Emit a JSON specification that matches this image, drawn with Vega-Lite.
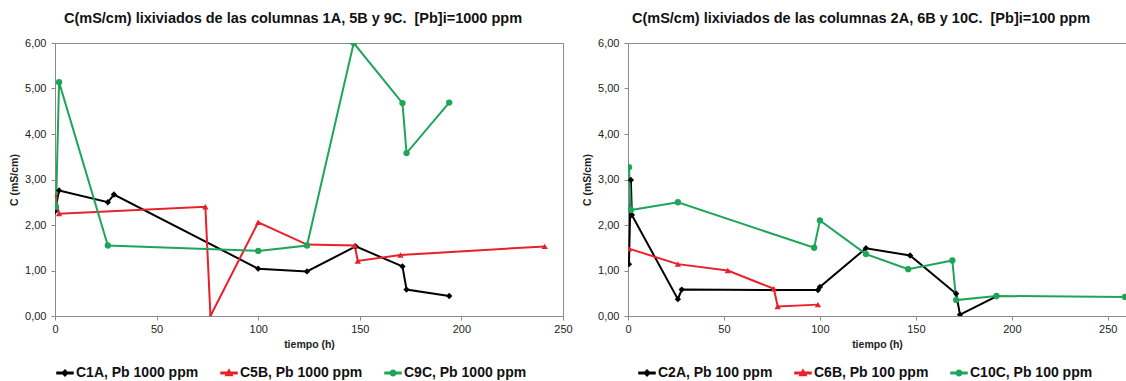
{
  "$schema": "https://vega.github.io/schema/vega-lite/v6.json",
  "padding": {"left": 9, "right": 0, "top": 10, "bottom": 0},
  "background": "white",
  "spacing": 9,
  "config": {
    "locale": {"number": {"decimal": ",", "thousands": ".", "grouping": [3], "currency": ["", " €"]}},
    "font": "Liberation Sans",
    "view": {"stroke": "#8a8a8a", "strokeWidth": 1},
    "axis": {
      "grid": false,
      "labelFont": "Liberation Sans",
      "labelFontSize": 11,
      "labelColor": "#222222",
      "labelFlush": false,
      "titleFont": "Liberation Sans",
      "titleFontSize": 10.5,
      "titleFontWeight": "bold",
      "titleColor": "#222222",
      "domainColor": "#8a8a8a",
      "tickColor": "#8a8a8a",
      "tickSize": 4
    },
    "legend": {
      "orient": "none",
      "direction": "horizontal",
      "labelFont": "Liberation Sans",
      "labelFontSize": 14,
      "labelFontWeight": "bold",
      "labelColor": "#111111",
      "labelOffset": 2,
      "columnPadding": 19,
      "symbolSize": 256
    },
    "title": {"font": "Liberation Sans", "fontSize": 14.5, "fontWeight": "bold", "color": "#111111", "offset": 11, "anchor": "middle", "frame": "group"}
  },
  "data": {
    "values": [
      {"panel": "L", "serie": "C1A, Pb 1000 ppm", "t": 0, "c": 2.3},
      {"panel": "L", "serie": "C1A, Pb 1000 ppm", "t": 2, "c": 2.76},
      {"panel": "L", "serie": "C1A, Pb 1000 ppm", "t": 26, "c": 2.5},
      {"panel": "L", "serie": "C1A, Pb 1000 ppm", "t": 29, "c": 2.67},
      {"panel": "L", "serie": "C1A, Pb 1000 ppm", "t": 100, "c": 1.04},
      {"panel": "L", "serie": "C1A, Pb 1000 ppm", "t": 124, "c": 0.98},
      {"panel": "L", "serie": "C1A, Pb 1000 ppm", "t": 148, "c": 1.53},
      {"panel": "L", "serie": "C1A, Pb 1000 ppm", "t": 171, "c": 1.09},
      {"panel": "L", "serie": "C1A, Pb 1000 ppm", "t": 173, "c": 0.58},
      {"panel": "L", "serie": "C1A, Pb 1000 ppm", "t": 194, "c": 0.44},
      {"panel": "L", "serie": "C5B, Pb 1000 ppm", "t": 0, "c": 2.65},
      {"panel": "L", "serie": "C5B, Pb 1000 ppm", "t": 2, "c": 2.25},
      {"panel": "L", "serie": "C5B, Pb 1000 ppm", "t": 74, "c": 2.4},
      {"panel": "L", "serie": "C5B, Pb 1000 ppm", "t": 76.5, "c": 0},
      {"panel": "L", "serie": "C5B, Pb 1000 ppm", "t": 100, "c": 2.06},
      {"panel": "L", "serie": "C5B, Pb 1000 ppm", "t": 124, "c": 1.57},
      {"panel": "L", "serie": "C5B, Pb 1000 ppm", "t": 147.5, "c": 1.55},
      {"panel": "L", "serie": "C5B, Pb 1000 ppm", "t": 149, "c": 1.21},
      {"panel": "L", "serie": "C5B, Pb 1000 ppm", "t": 170, "c": 1.34},
      {"panel": "L", "serie": "C5B, Pb 1000 ppm", "t": 241, "c": 1.53},
      {"panel": "L", "serie": "C9C, Pb 1000 ppm", "t": 0.5, "c": 2.4},
      {"panel": "L", "serie": "C9C, Pb 1000 ppm", "t": 2, "c": 5.14},
      {"panel": "L", "serie": "C9C, Pb 1000 ppm", "t": 26, "c": 1.55},
      {"panel": "L", "serie": "C9C, Pb 1000 ppm", "t": 100, "c": 1.43},
      {"panel": "L", "serie": "C9C, Pb 1000 ppm", "t": 124, "c": 1.55},
      {"panel": "L", "serie": "C9C, Pb 1000 ppm", "t": 147, "c": 6.0},
      {"panel": "L", "serie": "C9C, Pb 1000 ppm", "t": 171, "c": 4.68},
      {"panel": "L", "serie": "C9C, Pb 1000 ppm", "t": 173, "c": 3.58},
      {"panel": "L", "serie": "C9C, Pb 1000 ppm", "t": 194, "c": 4.69},
      {"panel": "R", "serie": "C2A, Pb 100 ppm", "t": 0.5, "c": 1.14},
      {"panel": "R", "serie": "C2A, Pb 100 ppm", "t": 1.5, "c": 2.99},
      {"panel": "R", "serie": "C2A, Pb 100 ppm", "t": 2, "c": 2.22},
      {"panel": "R", "serie": "C2A, Pb 100 ppm", "t": 26, "c": 0.37},
      {"panel": "R", "serie": "C2A, Pb 100 ppm", "t": 28, "c": 0.58},
      {"panel": "R", "serie": "C2A, Pb 100 ppm", "t": 99, "c": 0.57},
      {"panel": "R", "serie": "C2A, Pb 100 ppm", "t": 100, "c": 0.64},
      {"panel": "R", "serie": "C2A, Pb 100 ppm", "t": 124, "c": 1.49},
      {"panel": "R", "serie": "C2A, Pb 100 ppm", "t": 147, "c": 1.33},
      {"panel": "R", "serie": "C2A, Pb 100 ppm", "t": 171, "c": 0.49},
      {"panel": "R", "serie": "C2A, Pb 100 ppm", "t": 173, "c": 0.03},
      {"panel": "R", "serie": "C2A, Pb 100 ppm", "t": 192, "c": 0.43},
      {"panel": "R", "serie": "C6B, Pb 100 ppm", "t": 0.5, "c": 1.48},
      {"panel": "R", "serie": "C6B, Pb 100 ppm", "t": 26, "c": 1.14},
      {"panel": "R", "serie": "C6B, Pb 100 ppm", "t": 52, "c": 1.0},
      {"panel": "R", "serie": "C6B, Pb 100 ppm", "t": 76, "c": 0.6},
      {"panel": "R", "serie": "C6B, Pb 100 ppm", "t": 78, "c": 0.21},
      {"panel": "R", "serie": "C6B, Pb 100 ppm", "t": 99, "c": 0.25},
      {"panel": "R", "serie": "C10C, Pb 100 ppm", "t": 0.5, "c": 3.27},
      {"panel": "R", "serie": "C10C, Pb 100 ppm", "t": 1.5, "c": 2.33},
      {"panel": "R", "serie": "C10C, Pb 100 ppm", "t": 26, "c": 2.5},
      {"panel": "R", "serie": "C10C, Pb 100 ppm", "t": 97, "c": 1.5},
      {"panel": "R", "serie": "C10C, Pb 100 ppm", "t": 100, "c": 2.1},
      {"panel": "R", "serie": "C10C, Pb 100 ppm", "t": 124, "c": 1.36},
      {"panel": "R", "serie": "C10C, Pb 100 ppm", "t": 146, "c": 1.03},
      {"panel": "R", "serie": "C10C, Pb 100 ppm", "t": 169, "c": 1.22},
      {"panel": "R", "serie": "C10C, Pb 100 ppm", "t": 171, "c": 0.35},
      {"panel": "R", "serie": "C10C, Pb 100 ppm", "t": 192, "c": 0.44},
      {"panel": "R", "serie": "C10C, Pb 100 ppm", "t": 259, "c": 0.42}
    ]
  },
  "resolve": {"scale": {"color": "independent", "x": "independent", "y": "independent"}, "legend": {"color": "independent"}},
  "hconcat": [
    {
      "width": 508,
      "height": 273,
      "title": {"text": "C(mS/cm) lixiviados de las columnas 1A, 5B y 9C.\u00a0 [Pb]i=1000 ppm", "dx": -16},
      "transform": [{"filter": "datum.panel === 'L'"}],
      "encoding": {
        "x": {"field": "t", "type": "quantitative", "scale": {"domain": [0, 250], "nice": false, "zero": false},
              "axis": {"values": [0, 50, 100, 150, 200, 250], "format": "d", "title": "tiempo (h)", "labelPadding": 3, "titlePadding": 5}},
        "y": {"field": "c", "type": "quantitative", "scale": {"domain": [0, 6], "nice": false},
              "axis": {"values": [0, 1, 2, 3, 4, 5, 6], "format": ".2f", "title": "C (mS/cm)", "labelPadding": 5, "titlePadding": 5}}
      },
      "layer": [
        {
          "mark": {"type": "line", "strokeWidth": 2, "clip": true},
          "encoding": {
            "color": {"field": "serie", "type": "nominal",
              "scale": {"domain": ["C1A, Pb 1000 ppm", "C5B, Pb 1000 ppm", "C9C, Pb 1000 ppm"], "range": ["#000000", "#e8202a", "#1fa55a"]},
              "legend": {"legendX": 1, "legendY": 321, "title": null,
                "encode": {"symbols": {"update": {
                  "shape": {"signal": "datum.index === 0 ? 'M-1,-0.09L1,-0.09L1,0.09L-1,0.09ZM0,-0.36L0.36,0L0,0.36L-0.36,0Z' : datum.index === 1 ? 'M-1,-0.09L1,-0.09L1,0.09L-1,0.09ZM0,-0.4L0.4,0.3L-0.4,0.3Z' : 'M-1,-0.09L1,-0.09L1,0.09L-1,0.09ZM-0.34,0A0.34,0.34 0 1,1 0.34,0A0.34,0.34 0 1,1 -0.34,0Z'"},
                  "fill": {"signal": "datum.index === 0 ? '#000000' : datum.index === 1 ? '#e8202a' : '#1fa55a'"},
                  "stroke": {"value": "transparent"},
                  "fillOpacity": {"value": 1},
                  "opacity": {"value": 1}
                }}}
              }}
          }
        },
        {"transform": [{"filter": "datum.serie === 'C1A, Pb 1000 ppm'"}],
         "mark": {"type": "point", "shape": "diamond", "filled": true, "color": "#000000", "opacity": 1, "size": 40, "clip": true}},
        {"transform": [{"filter": "datum.serie === 'C5B, Pb 1000 ppm'"}],
         "mark": {"type": "point", "shape": "triangle-up", "filled": true, "color": "#e8202a", "opacity": 1, "size": 40, "clip": true}},
        {"transform": [{"filter": "datum.serie === 'C9C, Pb 1000 ppm'"}],
         "mark": {"type": "point", "shape": "circle", "filled": true, "color": "#1fa55a", "opacity": 1, "size": 40, "clip": true}}
      ]
    },
    {
      "width": 498,
      "height": 273,
      "title": {"text": "C(mS/cm) lixiviados de las columnas 2A, 6B y 10C.\u00a0 [Pb]i=100 ppm", "dx": -16},
      "transform": [{"filter": "datum.panel === 'R'"}],
      "encoding": {
        "x": {"field": "t", "type": "quantitative", "scale": {"domain": [0, 259.5], "nice": false, "zero": false},
              "axis": {"values": [0, 50, 100, 150, 200, 250], "format": "d", "title": "tiempo (h)", "labelPadding": 3, "titlePadding": 5}},
        "y": {"field": "c", "type": "quantitative", "scale": {"domain": [0, 6], "nice": false},
              "axis": {"values": [0, 1, 2, 3, 4, 5, 6], "format": ".2f", "title": "C (mS/cm)", "labelPadding": 5, "titlePadding": 5}}
      },
      "layer": [
        {
          "mark": {"type": "line", "strokeWidth": 2, "clip": true},
          "encoding": {
            "color": {"field": "serie", "type": "nominal",
              "scale": {"domain": ["C2A, Pb 100 ppm", "C6B, Pb 100 ppm", "C10C, Pb 100 ppm"], "range": ["#000000", "#e8202a", "#1fa55a"]},
              "legend": {"legendX": 10, "legendY": 321, "title": null,
                "encode": {"symbols": {"update": {
                  "shape": {"signal": "datum.index === 0 ? 'M-1,-0.09L1,-0.09L1,0.09L-1,0.09ZM0,-0.36L0.36,0L0,0.36L-0.36,0Z' : datum.index === 1 ? 'M-1,-0.09L1,-0.09L1,0.09L-1,0.09ZM0,-0.4L0.4,0.3L-0.4,0.3Z' : 'M-1,-0.09L1,-0.09L1,0.09L-1,0.09ZM-0.34,0A0.34,0.34 0 1,1 0.34,0A0.34,0.34 0 1,1 -0.34,0Z'"},
                  "fill": {"signal": "datum.index === 0 ? '#000000' : datum.index === 1 ? '#e8202a' : '#1fa55a'"},
                  "stroke": {"value": "transparent"},
                  "fillOpacity": {"value": 1},
                  "opacity": {"value": 1}
                }}}
              }}
          }
        },
        {"transform": [{"filter": "datum.serie === 'C2A, Pb 100 ppm'"}],
         "mark": {"type": "point", "shape": "diamond", "filled": true, "color": "#000000", "opacity": 1, "size": 40, "clip": true}},
        {"transform": [{"filter": "datum.serie === 'C6B, Pb 100 ppm'"}],
         "mark": {"type": "point", "shape": "triangle-up", "filled": true, "color": "#e8202a", "opacity": 1, "size": 40, "clip": true}},
        {"transform": [{"filter": "datum.serie === 'C10C, Pb 100 ppm'"}],
         "mark": {"type": "point", "shape": "circle", "filled": true, "color": "#1fa55a", "opacity": 1, "size": 40, "clip": true}}
      ]
    }
  ]
}
